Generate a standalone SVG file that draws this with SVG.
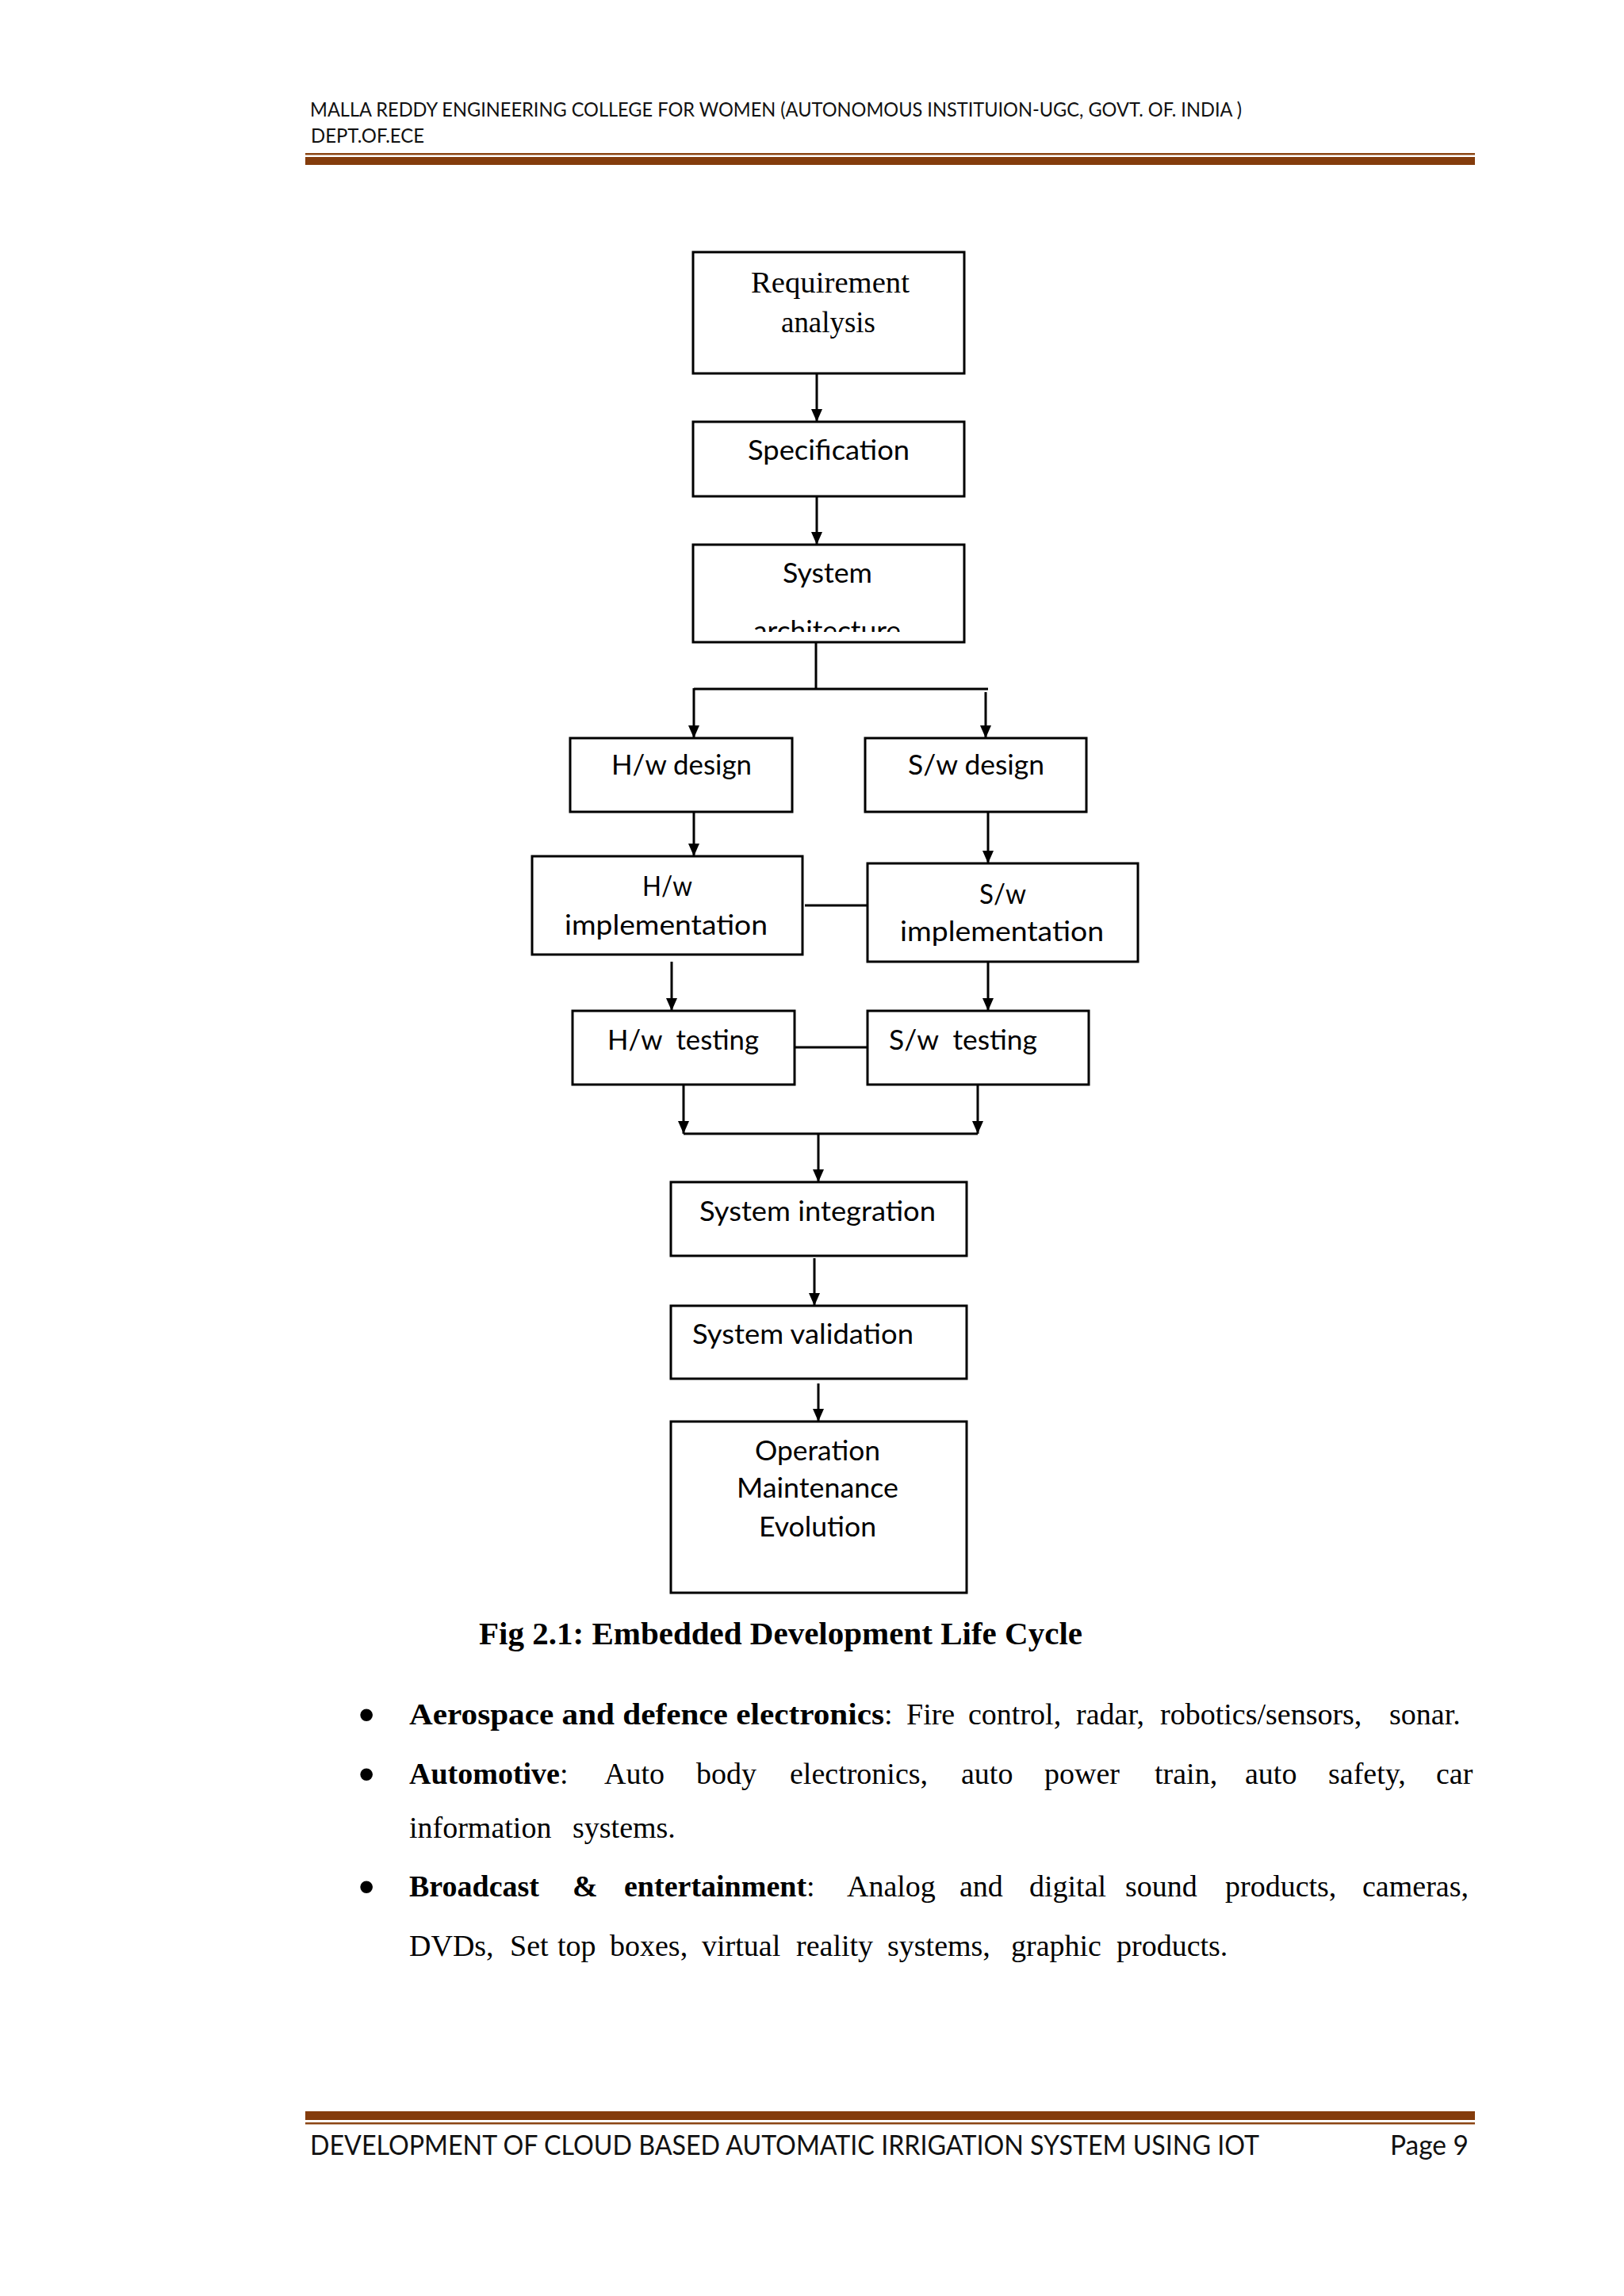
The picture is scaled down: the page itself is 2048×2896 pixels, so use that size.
<svg xmlns="http://www.w3.org/2000/svg" width="2048" height="2896" viewBox="0 0 2048 2896">
<style>
.box{fill:#fff;stroke:#000;stroke-width:3}
.con{fill:none;stroke:#000;stroke-width:3}
.arr{fill:none;stroke:#000;stroke-width:3;marker-end:url(#ah)}
.lbl{font-family:Lato,"Liberation Sans",sans-serif;font-size:34px;fill:#000}
.ser{font-family:"Liberation Serif","Times New Roman",serif;fill:#000}
.hdr{font-family:Lato,"Liberation Sans",sans-serif;fill:#111}
.body{font-family:"Liberation Serif","Times New Roman",serif;font-size:38px;fill:#000}
.bul{font-family:"Liberation Sans",Arial,sans-serif;font-size:58px;fill:#000}
.b{font-weight:bold}
</style>
<defs>
<marker id="ah" markerUnits="userSpaceOnUse" markerWidth="16" markerHeight="16" viewBox="0 0 16 16" refX="16" refY="8" orient="auto">
<path d="M0,1 L16,8 L0,15 Z" fill="#000"/>
</marker>
<clipPath id="archClip"><rect x="874" y="687" width="342" height="110"/></clipPath>
</defs>
<rect width="2048" height="2896" fill="#fff"/>

<!-- header -->
<g id="header">
<text class="hdr" x="391" y="147" font-size="25" textLength="1175" lengthAdjust="spacingAndGlyphs">MALLA REDDY ENGINEERING COLLEGE FOR WOMEN (AUTONOMOUS INSTITUION-UGC, GOVT. OF. INDIA )</text>
<text class="hdr" x="392" y="180" font-size="25" textLength="143" lengthAdjust="spacingAndGlyphs">DEPT.OF.ECE</text>
<rect x="385" y="193" width="1475" height="2.5" fill="#8B4513"/>
<rect x="385" y="198" width="1475" height="10" fill="#843C0C"/>
</g>

<!-- connectors -->
<g id="connectors">
<line class="arr" x1="1030" y1="471" x2="1030" y2="532"/>
<line class="arr" x1="1030" y1="626" x2="1030" y2="687"/>
<line class="con" x1="1029" y1="810" x2="1029" y2="869"/>
<line class="con" x1="875" y1="869" x2="1246" y2="869"/>
<line class="arr" x1="875" y1="868" x2="875" y2="931"/>
<line class="arr" x1="1243" y1="873" x2="1243" y2="931"/>
<line class="arr" x1="875" y1="1024" x2="875" y2="1080"/>
<line class="arr" x1="1246" y1="1024" x2="1246" y2="1089"/>
<line class="con" x1="1015" y1="1142" x2="1094" y2="1142"/>
<line class="arr" x1="847" y1="1213" x2="847" y2="1275"/>
<line class="arr" x1="1246" y1="1213" x2="1246" y2="1275"/>
<line class="con" x1="1000" y1="1321" x2="1094" y2="1321"/>
<line class="arr" x1="862" y1="1368" x2="862" y2="1430"/>
<line class="arr" x1="1233" y1="1368" x2="1233" y2="1430"/>
<line class="con" x1="862" y1="1430" x2="1233" y2="1430"/>
<line class="arr" x1="1032" y1="1430" x2="1032" y2="1491"/>
<line class="arr" x1="1027" y1="1587" x2="1027" y2="1647"/>
<line class="arr" x1="1032" y1="1745" x2="1032" y2="1793"/>
</g>

<!-- nodes -->
<g id="req">
<rect class="box" x="874" y="318" width="342" height="153"/>
<text class="ser" x="947" y="369" font-size="38" textLength="200" lengthAdjust="spacingAndGlyphs">Requirement</text>
<text class="ser" x="985" y="419" font-size="38" textLength="119" lengthAdjust="spacingAndGlyphs">analysis</text>
</g>
<g id="spec">
<rect class="box" x="874" y="532" width="342" height="94"/>
<text class="lbl" x="943" y="580" textLength="204" lengthAdjust="spacingAndGlyphs">Specification</text>
</g>
<g id="arch">
<rect class="box" x="874" y="687" width="342" height="123"/>
<text class="lbl" x="987" y="735" textLength="113" lengthAdjust="spacingAndGlyphs">System</text>
<text class="lbl" x="950" y="808" textLength="186" lengthAdjust="spacingAndGlyphs" clip-path="url(#archClip)">architecture</text>
</g>
<g id="hwdesign">
<rect class="box" x="719" y="931" width="280" height="93"/>
<text class="lbl" x="771" y="977" textLength="177" lengthAdjust="spacingAndGlyphs">H/w design</text>
</g>
<g id="swdesign">
<rect class="box" x="1091" y="931" width="279" height="93"/>
<text class="lbl" x="1145" y="977" textLength="172" lengthAdjust="spacingAndGlyphs">S/w design</text>
</g>
<g id="hwimpl">
<rect class="box" x="671" y="1080" width="341" height="124"/>
<text class="lbl" x="810" y="1130" textLength="63" lengthAdjust="spacingAndGlyphs">H/w</text>
<text class="lbl" x="712" y="1179" textLength="256" lengthAdjust="spacingAndGlyphs">implementation</text>
</g>
<g id="swimpl">
<rect class="box" x="1094" y="1089" width="341" height="124"/>
<text class="lbl" x="1235" y="1140" textLength="59" lengthAdjust="spacingAndGlyphs">S/w</text>
<text class="lbl" x="1135" y="1187" textLength="257" lengthAdjust="spacingAndGlyphs">implementation</text>
</g>
<g id="hwtest">
<rect class="box" x="722" y="1275" width="280" height="93"/>
<text class="lbl" x="766" y="1324" textLength="191" lengthAdjust="spacingAndGlyphs" xml:space="preserve">H/w  testing</text>
</g>
<g id="swtest">
<rect class="box" x="1094" y="1275" width="279" height="93"/>
<text class="lbl" x="1121" y="1324" textLength="187" lengthAdjust="spacingAndGlyphs" xml:space="preserve">S/w  testing</text>
</g>
<g id="sysint">
<rect class="box" x="846" y="1491" width="373" height="93"/>
<text class="lbl" x="882" y="1540" textLength="298" lengthAdjust="spacingAndGlyphs">System integration</text>
</g>
<g id="sysval">
<rect class="box" x="846" y="1647" width="373" height="92"/>
<text class="lbl" x="873" y="1695" textLength="279" lengthAdjust="spacingAndGlyphs">System validation</text>
</g>
<g id="ome">
<rect class="box" x="846" y="1793" width="373" height="216"/>
<text class="lbl" x="952" y="1842" textLength="158" lengthAdjust="spacingAndGlyphs">Operation</text>
<text class="lbl" x="929" y="1889" textLength="204" lengthAdjust="spacingAndGlyphs">Maintenance</text>
<text class="lbl" x="957" y="1938" textLength="148" lengthAdjust="spacingAndGlyphs">Evolution</text>
</g>

<!-- caption -->
<g id="caption">
<text class="ser b" x="604" y="2074" font-size="40" textLength="761" lengthAdjust="spacingAndGlyphs">Fig 2.1: Embedded  Development  Life  Cycle</text>
</g>

<!-- body text -->
<g id="bodytext">
<text class="bul" x="452" y="2182">•</text>
<text class="body" y="2175"><tspan class="b" x="516" textLength="599" lengthAdjust="spacingAndGlyphs">Aerospace and defence electronics</tspan><tspan x="1115">:</tspan><tspan x="1143">Fire</tspan><tspan x="1221">control,</tspan><tspan x="1357">radar,</tspan><tspan x="1463">robotics/sensors,</tspan><tspan x="1752">sonar.</tspan></text>

<text class="bul" x="452" y="2257">•</text>
<text class="body" y="2250"><tspan class="b" x="516">Automotive</tspan><tspan>:</tspan><tspan x="762">Auto</tspan><tspan x="878">body</tspan><tspan x="996">electronics,</tspan><tspan x="1212">auto</tspan><tspan x="1317">power</tspan><tspan x="1456">train,</tspan><tspan x="1570">auto</tspan><tspan x="1675">safety,</tspan><tspan x="1811">car</tspan></text>
<text class="body" y="2318"><tspan x="516">information</tspan><tspan x="722">systems.</tspan></text>

<text class="bul" x="452" y="2399">•</text>
<text class="body" y="2392"><tspan class="b" x="516">Broadcast</tspan><tspan class="b" x="722">&amp;</tspan><tspan class="b" x="787">entertainment</tspan><tspan>:</tspan><tspan x="1068">Analog</tspan><tspan x="1210">and</tspan><tspan x="1298">digital</tspan><tspan x="1419">sound</tspan><tspan x="1545">products,</tspan><tspan x="1718">cameras,</tspan></text>
<text class="body" y="2467"><tspan x="516">DVDs,</tspan><tspan x="643">Set</tspan><tspan x="703">top</tspan><tspan x="769">boxes,</tspan><tspan x="885">virtual</tspan><tspan x="1004">reality</tspan><tspan x="1119">systems,</tspan><tspan x="1275">graphic</tspan><tspan x="1408">products.</tspan></text>
</g>

<!-- footer -->
<g id="footer">
<rect x="385" y="2663" width="1475" height="11" fill="#843C0C"/>
<rect x="385" y="2677" width="1475" height="2.5" fill="#8B4513"/>
<text class="hdr" x="391" y="2718" font-size="35" textLength="1197" lengthAdjust="spacingAndGlyphs">DEVELOPMENT OF CLOUD BASED AUTOMATIC IRRIGATION SYSTEM USING IOT</text>
<text class="hdr" x="1753" y="2718" font-size="35" textLength="99" lengthAdjust="spacingAndGlyphs">Page 9</text>
</g>
</svg>
